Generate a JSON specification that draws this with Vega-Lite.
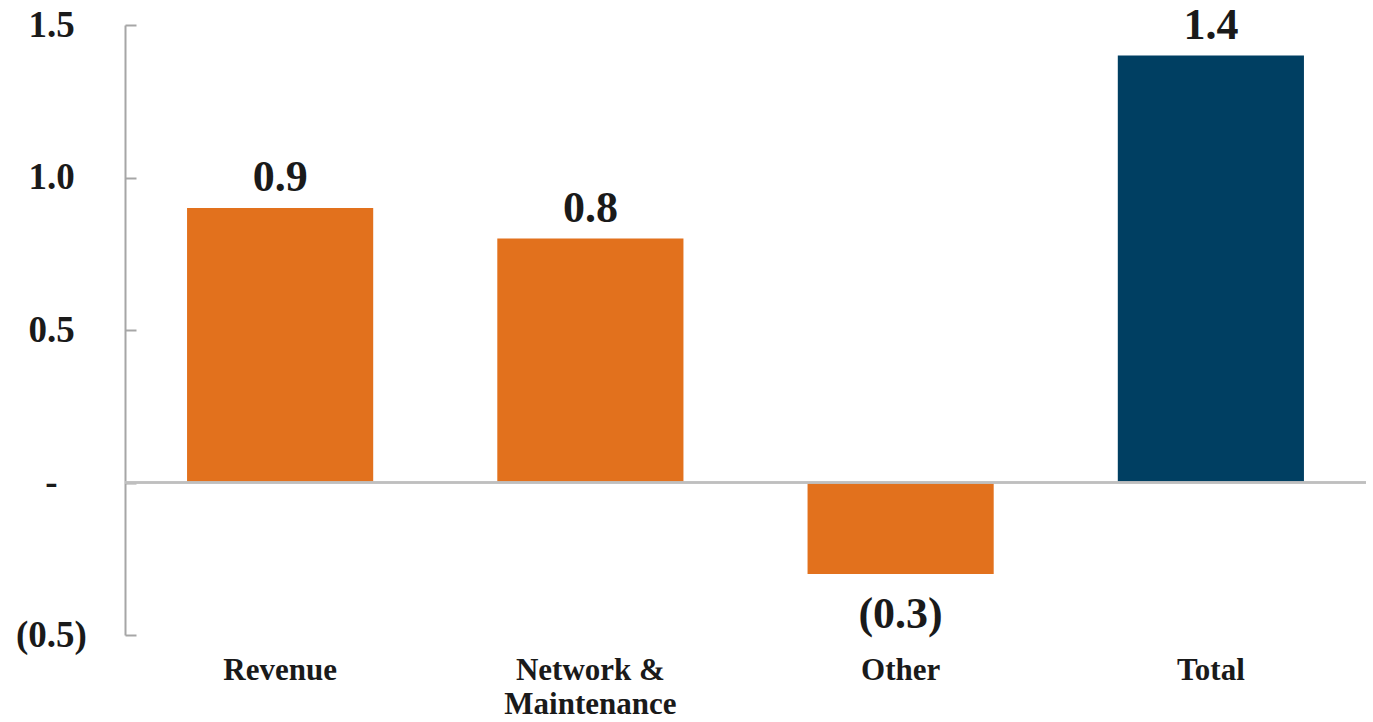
{
  "$schema": "https://vega.github.io/schema/vega-lite/v6.json",
  "autosize": {"type": "none"},
  "padding": {"left": 125, "top": 25, "right": 7, "bottom": 87},
  "width": 1241,
  "height": 610,
  "background": "white",
  "config": {
    "view": {"stroke": null},
    "font": "Liberation Serif"
  },
  "data": {
    "values": [
      {"category": "Revenue", "value": 0.9, "type": "Component"},
      {"category": "Network & Maintenance", "value": 0.8, "type": "Component"},
      {"category": "Other", "value": -0.3, "type": "Component"},
      {"category": "Total", "value": 1.4, "type": "Total"}
    ]
  },
  "encoding": {
    "x": {
      "field": "category",
      "type": "nominal",
      "sort": null,
      "scale": {"paddingInner": 0.4, "paddingOuter": 0.2},
      "axis": {
        "title": null,
        "domain": false,
        "ticks": false,
        "labelAngle": 0,
        "labelFont": "Liberation Serif",
        "labelFontWeight": "bold",
        "labelFontSize": 31,
        "labelColor": "#1a1a1a",
        "labelBaseline": "top",
        "labelPadding": 20,
        "labelLineHeight": 34,
        "labelExpr": "datum.label == 'Network & Maintenance' ? ['Network &', 'Maintenance'] : datum.label"
      }
    },
    "y": {
      "field": "value",
      "type": "quantitative",
      "scale": {"domain": [-0.5, 1.5], "nice": false, "zero": false},
      "axis": {
        "title": null,
        "grid": false,
        "values": [-0.5, 0, 0.5, 1, 1.5],
        "format": "(.1f",
        "labelExpr": "datum.value == 0 ? '-' : datum.label",
        "domainColor": "#A6A6A6",
        "domainWidth": 2,
        "tickColor": "#A6A6A6",
        "tickWidth": 2,
        "tickSize": -11,
        "labelAlign": "center",
        "labelPadding": 85,
        "labelFont": "Liberation Serif",
        "labelFontWeight": "bold",
        "labelFontSize": 37,
        "labelColor": "#1a1a1a"
      }
    }
  },
  "layer": [
    {
      "mark": {"type": "bar"},
      "encoding": {
        "color": {
          "field": "type",
          "type": "nominal",
          "scale": {"domain": ["Component", "Total"], "range": ["#E2711D", "#003F62"]},
          "legend": null
        }
      }
    },
    {
      "mark": {"type": "rule", "color": "#BFBFBF", "strokeWidth": 2},
      "encoding": {"y": {"datum": 0}, "x": {"value": 0}, "x2": {"value": 1241}}
    },
    {
      "transform": [{"filter": "datum.value >= 0"}],
      "mark": {"type": "text", "baseline": "alphabetic", "dy": -17, "fontSize": 44, "fontWeight": "bold", "font": "Liberation Serif", "color": "#1a1a1a"},
      "encoding": {"text": {"field": "value", "type": "quantitative", "format": "(.1f"}}
    },
    {
      "transform": [{"filter": "datum.value < 0"}],
      "mark": {"type": "text", "baseline": "alphabetic", "dy": 54, "fontSize": 44, "fontWeight": "bold", "font": "Liberation Serif", "color": "#1a1a1a"},
      "encoding": {"text": {"field": "value", "type": "quantitative", "format": "(.1f"}}
    }
  ]
}
